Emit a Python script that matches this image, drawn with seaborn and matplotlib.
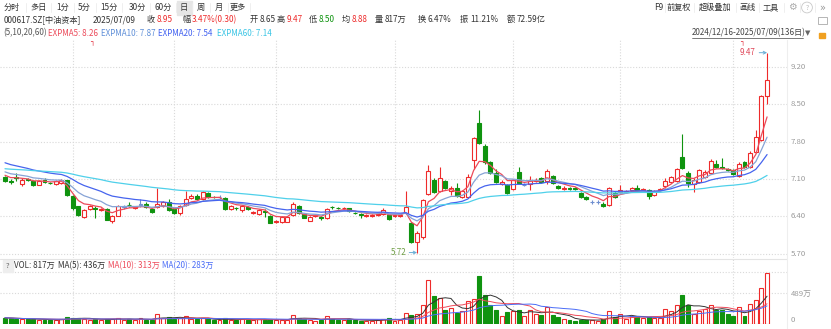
import numpy as np
import pandas as pd
import matplotlib
matplotlib.use("Agg")
import matplotlib.pyplot as plt
from matplotlib.lines import Line2D
from matplotlib.patches import Rectangle
import seaborn as sns

# ---------------- data ----------------
opens = [7.13, 7.06, 7.13, 7.00, 7.10, 7.07, 6.99, 7.08, 7.03, 7.00,
         7.02, 7.08, 6.78, 6.59, 6.39, 6.53, 6.56, 6.52, 6.53, 6.32,
         6.41, 6.58, 6.62, 6.55, 6.62, 6.64, 6.53, 6.57, 6.59, 6.67,
         6.53, 6.46, 6.61, 6.74, 6.79, 6.72, 6.84, 6.77, 6.76, 6.75,
         6.53, 6.56, 6.52, 6.58, 6.46, 6.44, 6.50, 6.41, 6.29, 6.29,
         6.30, 6.42, 6.59, 6.44, 6.32, 6.40, 6.39, 6.36, 6.58, 6.56,
         6.55, 6.55, 6.47, 6.44, 6.40, 6.40, 6.42, 6.44, 6.42, 6.40,
         6.40, 6.46, 6.27, 5.92, 6.02, 6.82, 7.08, 6.88, 7.07, 6.88,
         6.93, 6.76, 6.77, 7.46, 8.16, 7.72, 7.41, 7.21, 7.01, 6.99,
         6.91, 7.24, 6.99, 7.01, 7.07, 7.11, 7.07, 7.16, 6.97, 6.92,
         6.93, 6.93, 6.84, 6.77, 6.67, 6.67, 6.64, 6.61, 6.83, 6.86,
         6.86, 6.90, 6.94, 6.90, 6.89, 6.80, 6.89, 6.96, 7.05, 7.07,
         7.51, 7.22, 7.01, 7.05, 7.13, 7.21, 7.38, 7.33, 7.28, 7.26,
         7.16, 7.42, 7.32, 7.61, 7.83, 8.65]
highs = [7.16, 7.10, 7.22, 7.11, 7.12, 7.09, 7.09, 7.11, 7.05, 7.08,
         7.10, 7.09, 6.80, 6.60, 6.53, 6.61, 6.59, 6.56, 6.55, 6.43,
         6.61, 6.62, 6.66, 6.59, 6.72, 6.66, 6.55, 6.93, 6.68, 6.72,
         6.55, 6.61, 6.88, 6.81, 6.81, 6.87, 6.86, 6.79, 6.80, 6.76,
         6.61, 6.58, 6.61, 6.59, 6.50, 6.53, 6.53, 6.43, 6.33, 6.40,
         6.41, 6.66, 6.61, 6.46, 6.40, 6.44, 6.41, 6.55, 6.60, 6.58,
         6.58, 6.56, 6.49, 6.46, 6.44, 6.44, 6.46, 6.55, 6.43, 6.44,
         6.44, 6.88, 6.30, 6.12, 6.73, 7.36, 7.12, 7.32, 7.09, 6.97,
         7.02, 6.90, 7.20, 7.88, 8.39, 7.76, 7.44, 7.28, 7.08, 7.01,
         7.10, 7.32, 7.02, 7.15, 7.11, 7.13, 7.28, 7.18, 6.99, 6.96,
         6.95, 6.95, 6.86, 6.79, 6.70, 6.70, 6.66, 6.95, 6.88, 6.99,
         6.90, 6.95, 6.99, 6.94, 6.91, 6.90, 6.93, 7.12, 7.16, 7.31,
         7.94, 7.25, 7.12, 7.28, 7.26, 7.48, 7.45, 7.50, 7.30, 7.28,
         7.42, 7.44, 7.62, 8.02, 8.68, 9.47]
lows = [7.05, 7.01, 7.07, 6.97, 7.06, 6.97, 6.98, 7.02, 7.00, 6.99,
        7.00, 6.78, 6.52, 6.40, 6.37, 6.51, 6.36, 6.50, 6.33, 6.28,
        6.40, 6.54, 6.57, 6.53, 6.58, 6.55, 6.47, 6.55, 6.57, 6.50,
        6.45, 6.42, 6.60, 6.72, 6.71, 6.71, 6.75, 6.74, 6.73, 6.52,
        6.51, 6.52, 6.48, 6.52, 6.44, 6.43, 6.38, 6.27, 6.28, 6.28,
        6.29, 6.40, 6.44, 6.36, 6.31, 6.38, 6.33, 6.35, 6.54, 6.53,
        6.53, 6.49, 6.44, 6.37, 6.39, 6.39, 6.41, 6.43, 6.33, 6.39,
        6.39, 6.44, 5.90, 5.72, 5.98, 6.80, 6.84, 6.86, 6.91, 6.80,
        6.76, 6.74, 6.75, 7.28, 7.76, 7.39, 7.19, 7.03, 6.99, 6.82,
        6.89, 7.01, 6.96, 6.90, 7.05, 7.03, 7.00, 7.00, 6.91, 6.90,
        6.89, 6.90, 6.75, 6.70, 6.64, 6.64, 6.57, 6.60, 6.74, 6.84,
        6.84, 6.88, 6.86, 6.88, 6.73, 6.78, 6.87, 6.94, 7.03, 7.05,
        7.28, 6.95, 6.85, 7.03, 7.11, 7.19, 7.31, 7.28, 7.25, 7.17,
        7.14, 7.31, 7.30, 7.59, 7.81, 8.50]
closes = [7.07, 7.04, 7.12, 7.09, 7.08, 6.99, 7.07, 7.04, 7.02, 7.06,
          7.08, 6.80, 6.55, 6.42, 6.51, 6.59, 6.54, 6.54, 6.34, 6.41,
          6.59, 6.58, 6.61, 6.57, 6.62, 6.57, 6.49, 6.63, 6.66, 6.52,
          6.47, 6.59, 6.72, 6.79, 6.72, 6.85, 6.77, 6.76, 6.76, 6.53,
          6.59, 6.55, 6.59, 6.53, 6.48, 6.51, 6.49, 6.28, 6.31, 6.38,
          6.39, 6.63, 6.46, 6.37, 6.38, 6.42, 6.37, 6.53, 6.57, 6.55,
          6.56, 6.50, 6.46, 6.43, 6.42, 6.42, 6.44, 6.52, 6.35, 6.42,
          6.42, 6.57, 5.92, 6.09, 6.71, 7.25, 6.86, 7.11, 6.93, 6.94,
          6.78, 6.88, 7.13, 7.86, 7.78, 7.41, 7.21, 7.05, 7.05, 6.84,
          7.08, 7.03, 6.99, 7.09, 7.09, 7.05, 7.25, 7.02, 6.93, 6.94,
          6.91, 6.92, 6.77, 6.72, 6.67, 6.67, 6.59, 6.93, 6.76, 6.89,
          6.88, 6.93, 6.88, 6.92, 6.79, 6.88, 6.91, 7.07, 7.13, 7.28,
          7.30, 7.03, 7.09, 7.26, 7.23, 7.44, 7.33, 7.30, 7.27, 7.19,
          7.38, 7.33, 7.58, 7.88, 8.65, 8.95]
volumes = [100, 90, 85, 80, 75, 80, 70, 65, 60, 70,
           75, 110, 100, 90, 85, 70, 75, 60, 80, 85,
           90, 70, 75, 65, 95, 70, 60, 160, 95, 110,
           80, 90, 130, 85, 75, 90, 80, 60, 60, 90,
           70, 65, 80, 70, 60, 75, 65, 85, 60, 70,
           65, 150, 100, 80, 60, 55, 60, 130, 80, 70,
           65, 75, 60, 55, 50, 55, 60, 85, 90, 55,
           60, 176, 150, 160, 310, 710, 443, 416, 219, 256,
           176, 213, 363, 405, 773, 459, 309, 219, 133, 192,
           203, 229, 133, 229, 160, 149, 267, 149, 107, 85,
           59, 53, 69, 69, 69, 53, 75, 203, 107, 165,
           85, 133, 123, 96, 107, 96, 96, 245, 213, 309,
           459, 309, 160, 213, 245, 309, 229, 229, 160, 123,
           267, 123, 320, 389, 576, 817]  # 万股

month_starts = [12, 30, 48, 69, 90, 109, 129]
price_ticks = [5.70, 6.40, 7.10, 7.80, 8.50, 9.20]
vol_ticks = [0, 489]
vol_grid = [489, 840]
ema_periods = [5, 10, 20, 60]
ema_seeds = [7.22, 7.27, 7.44, 7.30]
vol_ma_periods = [5, 10, 20]

# ---------------- style ----------------
sns.set_theme(style="white")
plt.rcParams['font.family'] = ['Noto Sans CJK SC', 'DejaVu Sans']
plt.rcParams['axes.unicode_minus'] = False

RED = '#ee2b2b'
GREEN = '#0f930f'
FLAT = '#6f8fd0'
EMA_COLORS = ['#ec4a5a', '#86a3d6', '#4664ee', '#4fd0ea']
VMA_COLORS = ['#333333', '#ee4a5a', '#4a6cf7']
GRID = '#d9d9d9'
TXT = '#333333'
AX_TXT = '#9a9a9a'

W, H = 831, 329
fig = plt.figure(figsize=(W / 100, H / 100), dpi=100)
fig.patch.set_facecolor('white')


def fx(x):
    return x / W


def fy(y):
    return 1 - y / H


PR = 787  # right edge of plotting area in px
ax = fig.add_axes([0, fy(258), PR / W, (258 - 40) / H])
axv = fig.add_axes([0, fy(324), PR / W, (324 - 258) / H])

n = len(closes)
idx = np.arange(n)
o = np.array(opens)
c = np.array(closes)
hi = np.array(highs)
lo = np.array(lows)
vol = np.array(volumes, dtype=float)

x_left = -5 / 5.645
x_right = (PR - 5) / 5.645
for a in (ax, axv):
    a.set_xlim(x_left, x_right)
    for s in a.spines.values():
        s.set_visible(False)
    a.set_xticks([])
    a.set_yticks([])
    a.set_facecolor('none')

ax.set_ylim(7.10 - 79 / 53.3, 7.10 + 139 / 53.3)
axv.set_ylim(0, 66 * 16)

# grids
dot = (0, (1, 1.6))
for p in price_ticks:
    ax.axhline(p, color=GRID, lw=0.8, ls=dot, zorder=0)
for m in month_starts:
    ax.axvline(m, color=GRID, lw=0.8, ls=dot, zorder=0)
    axv.axvline(m, color=GRID, lw=0.8, ls=dot, zorder=0)
for v in vol_grid:
    axv.axhline(v, color=GRID, lw=0.8, ls=dot, zorder=0)

# candle colours
col = np.where(c > o, RED, np.where(c < o, GREEN, FLAT))
face = np.where(c < o, GREEN, 'white')
body_bot = np.minimum(o, c)
body_h = np.maximum(np.abs(c - o), 0.006)

ax.vlines(idx, lo, hi, colors=col, lw=0.8, zorder=2)
ax.bar(idx, body_h, bottom=body_bot, width=0.7, color=face,
       edgecolor=col, linewidth=0.8, zorder=3)

# EXPMA lines
ema_df = []
for per, seed in zip(ema_periods, ema_seeds):
    e = seed
    vals = []
    for v in closes:
        e = (2 * v + (per - 1) * e) / (per + 1)
        vals.append(e)
    ema_df.append(pd.DataFrame({'i': idx, 'v': vals, 's': f'EXPMA{per}'}))
ema_df = pd.concat(ema_df)
sns.lineplot(data=ema_df, x='i', y='v', hue='s', palette=EMA_COLORS,
             lw=0.9, legend=False, ax=ax, zorder=4)
ax.set_xlabel('')
ax.set_ylabel('')

# price labels
ytr = ax.get_yaxis_transform()
for p in price_ticks:
    ax.text(1.005, p, f'{p:.2f}', transform=ytr, ha='left', va='center',
            fontsize=5.6, color=AX_TXT, clip_on=False)

# max / min annotations
imax = int(np.argmax(hi))
imin = int(np.argmin(lo))
ax.annotate(f'{hi[imax]:.2f}', xy=(imax, hi[imax]), xytext=(-8, 0),
            textcoords='offset points', ha='right', va='center',
            fontsize=5.8, color='#e0485a',
            arrowprops=dict(arrowstyle='->', color='#6aaed6', lw=0.7,
                            shrinkA=0, shrinkB=0, mutation_scale=5))
ax.annotate(f'{lo[imin]:.2f}', xy=(imin, lo[imin]), xytext=(-8, 0),
            textcoords='offset points', ha='right', va='center',
            fontsize=5.8, color='#6f9e45',
            arrowprops=dict(arrowstyle='->', color='#6aaed6', lw=0.7,
                            shrinkA=0, shrinkB=0, mutation_scale=5))

# volume bars
vcol = np.where(c >= o, RED, GREEN)
vface = np.where(c >= o, 'white', GREEN)
axv.bar(idx, vol, width=0.7, color=vface, edgecolor=vcol, linewidth=0.8,
        zorder=3)
vma = []
for per in vol_ma_periods:
    vma.append(pd.DataFrame({'i': idx,
                             'v': pd.Series(vol).rolling(per, min_periods=1).mean(),
                             's': f'MA{per}'}))
vma = pd.concat(vma)
sns.lineplot(data=vma, x='i', y='v', hue='s', palette=VMA_COLORS, lw=0.7,
             legend=False, ax=axv, zorder=4)
axv.set_xlabel('')
axv.set_ylabel('')
vtr = axv.get_yaxis_transform()
axv.text(1.005, vol_ticks[1], f'{vol_ticks[1]}万', transform=vtr, ha='left',
         va='center', fontsize=5.6, color=AX_TXT, clip_on=False)
axv.text(1.005, vol_ticks[0], f'{vol_ticks[0]}', transform=vtr, ha='left',
         va='bottom', fontsize=5.6, color=AX_TXT, clip_on=False)

# frame lines
fig.add_artist(Line2D([0, fx(PR)], [fy(258.5)] * 2, color='#e4e4e4', lw=0.8))
fig.add_artist(Line2D([fx(PR)] * 2, [fy(40), fy(329)], color='#eeeeee', lw=0.8))


# ---------------- header text ----------------
def t(x, y, s, color=TXT, size=5.9, ha='left', **kw):
    fig.text(fx(x), fy(y), s, color=color, fontsize=size, ha=ha, va='center', **kw)


# toolbar
fig.add_artist(Rectangle((fx(176.5), fy(15)), fx(15), 14 / H, color='#e6e6e6',
                         transform=fig.transFigure, zorder=0))
for cx, s in [(12, '分时'), (39, '多日'), (63, '1分'), (84, '5分'), (109, '15分'),
              (137, '30分'), (163, '60分'), (184, '日'), (201, '周'), (219, '月'),
              (238, '更多')]:
    t(cx, 7.5, s, ha='center')
for sx in [26, 51, 74, 96, 122, 150, 176, 192, 210, 228, 250]:
    fig.add_artist(Line2D([fx(sx)] * 2, [fy(3), fy(12)], color='#ececec', lw=0.6))
for cx, s in [(659, 'F9'), (679, '前复权'), (715, '超级叠加'), (747, '画线'), (771, '工具')]:
    t(cx, 7.5, s, ha='center')
for sx in [665, 694, 736, 759, 784, 800, 815]:
    fig.add_artist(Line2D([fx(sx)] * 2, [fy(3), fy(12)], color='#ececec', lw=0.6))
t(792, 7.5, '⚙', color='#aaaaaa', size=7, ha='center', family='DejaVu Sans')
t(807, 7.5, '?', color='#bbbbbb', size=5, ha='center',
  bbox=dict(boxstyle='circle,pad=0.2', fc='none', ec='#c8c8c8', lw=0.6))
t(822, 7.5, '»', color='#999999', size=7, ha='center', family='DejaVu Sans')

# quote row
t(3.5, 19.5, '000617.SZ[中油资本]')
t(93, 19.5, '2025/07/09')
quote = [(147, '收', '8.95', RED), (182, '幅', '3.47%(0.30)', RED),
         (250, '开', '8.65', TXT), (277, '高', '9.47', RED),
         (309, '低', '8.50', GREEN), (342, '均', '8.88', RED),
         (375, '量', '817万', TXT), (418, '换', '6.47%', TXT),
         (460, '振', '11.21%', TXT), (507, '额', '72.59亿', TXT)]
for x, lab, val, cc in quote:
    t(x, 19.5, lab)
    t(x + 10, 19.5, val, color=cc)

# indicator row
row3 = [(3, '(5,10,20,60)', '#555555'),
        (48, 'EXPMA5: 8.26', EMA_COLORS[0]),
        (101, 'EXPMA10: 7.87', '#5f8fd8'),
        (158, 'EXPMA20: 7.54', '#4060f0'),
        (217, 'EXPMA60: 7.14', '#38c4e4')]
for x, s, cc in row3:
    t(x, 33, s, color=cc, size=5.8)
t(692, 33, '2024/12/16-2025/07/09(136日)', color='#444444', size=5.8)
fig.add_artist(Line2D([fx(692), fx(803)], [fy(38)] * 2, color='#444444', lw=0.5))
t(805, 33, '▼', color='#666666', size=5, family='DejaVu Sans')
fig.add_artist(Rectangle((fx(818.5), fy(38)), 6 / W, 5 / H, color='#f0a020',
                         transform=fig.transFigure))
fig.add_artist(Rectangle((fx(818), fy(24)), 9 / W, 7 / H, fc='none', ec='#aaaaaa',
                         lw=0.6, transform=fig.transFigure))

# event markers
for x in (92, 742):
    t(x, 43, '┐', color='#e02030', size=5, ha='center', family='DejaVu Sans',
      fontweight='bold')

# volume header
fig.add_artist(Rectangle((fx(3), fy(271.5)), 10 / W, 12 / H, color='#eeeeee',
                         transform=fig.transFigure))
t(8, 265.5, '?', color='#666666', size=5.5, ha='center')
t(14.5, 265.5, 'VOL: 817万', color=TXT, size=5.8)
t(58, 265.5, 'MA(5): 436万', color=TXT, size=5.8)
t(108, 265.5, 'MA(10): 313万', color='#ee4a5a', size=5.8)
t(162, 265.5, 'MA(20): 283万', color='#4a6cf7', size=5.8)

fig.savefig('out.png', dpi=100, facecolor='white')
